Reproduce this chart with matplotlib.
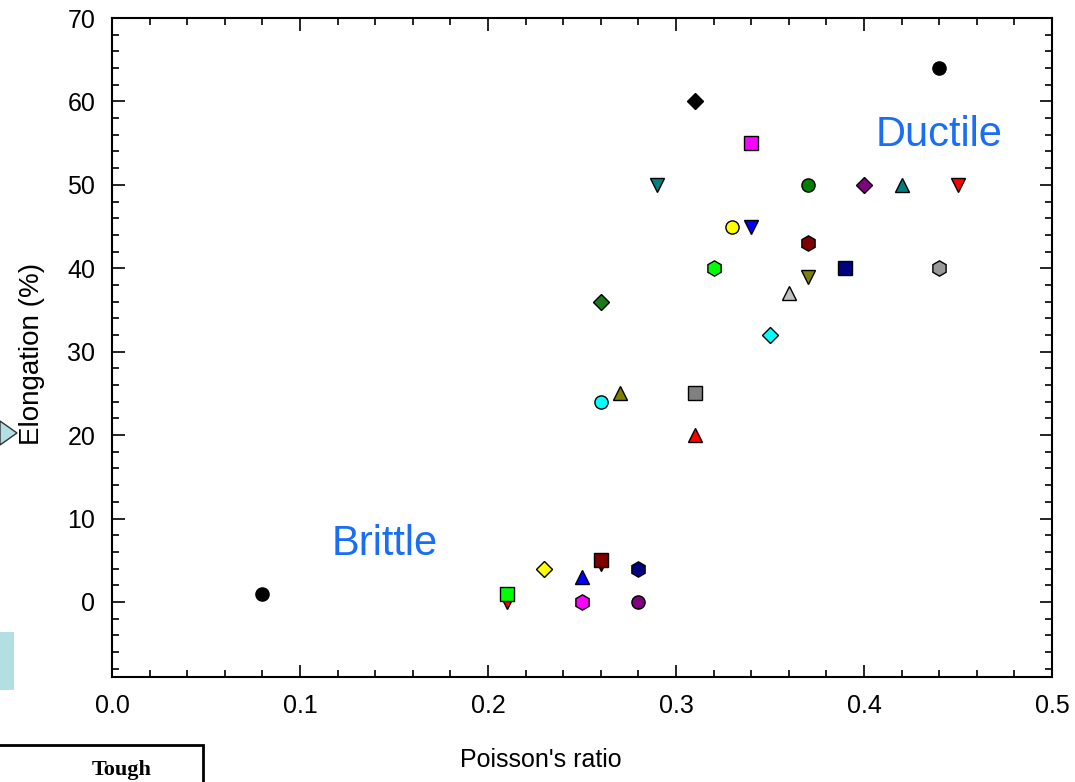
import matplotlib.pyplot as plt
from matplotlib.patches import Rectangle, Polygon

plt.rcParams['font.family'] = ['Liberation Sans', 'DejaVu Sans']

# Poisson's ratio and elongation (%) for each material
poisson = [0.08, 0.44, 0.31, 0.34, 0.29, 0.37, 0.40, 0.42, 0.45,
           0.33, 0.34, 0.37, 0.32, 0.39, 0.44, 0.37, 0.36, 0.26,
           0.35, 0.26, 0.27, 0.31, 0.31, 0.23, 0.25, 0.26, 0.26,
           0.28, 0.21, 0.21, 0.25, 0.28]
elongation = [1, 64, 60, 55, 50, 50, 50, 50, 50,
              45, 45, 43, 40, 40, 40, 39, 37, 36,
              32, 24, 25, 25, 20, 4, 3, 4.6, 5,
              4, 0, 1, 0, 0]

markers = ['o', 'o', 'D', 's', 'v', 'o', 'D', '^', 'v',
           'o', 'v', 'h', 'h', 's', 'h', 'v', '^', 'D',
           'D', 'o', '^', 's', '^', 'D', '^', 'v', 's',
           'h', 'v', 's', 'h', 'o']
colors = ['black', 'black', 'black', '#ff00ff', '#008080', '#008000', '#800080', '#008080', '#ff0000',
          '#ffff00', '#0000ff', '#800000', '#00ff00', '#000080', '#999999', '#808000', '#c0c0c0', '#1a7a1a',
          '#00ffff', '#00ffff', '#808000', '#808080', '#ff0000', '#ffff00', '#0000ff', '#800000', '#800000',
          '#000080', '#ff0000', '#00ff00', '#ff00ff', '#800080']

fig = plt.figure(figsize=(10.75, 7.82), dpi=100)
ax = fig.add_axes([112/1075, 1 - 677/782, 940/1075, 659/782])

sizes = {'o': 9.5, 'D': 8.5, 's': 9.5, 'v': 9.5, '^': 9.5, 'h': 11}
for px, py, m, c in zip(poisson, elongation, markers, colors):
    ax.plot(px, py, marker=m, color=c, markeredgecolor='black',
            markeredgewidth=1.0, markersize=sizes[m], linestyle='none')

ax.set_xlim(0, 0.5)
ax.set_ylim(-9, 70)
ax.set_xticks([0.0, 0.1, 0.2, 0.3, 0.4, 0.5])
ax.set_xticklabels(['0.0', '0.1', '0.2', '0.3', '0.4', '0.5'])
ax.set_yticks(range(0, 71, 10))
ax.set_xticks([i * 0.02 for i in range(26)], minor=True)
ax.set_yticks(range(-8, 71, 2), minor=True)
ax.tick_params(which='both', direction='in', top=True, right=True,
               labelsize=18, width=1.2)
ax.tick_params(which='major', length=9, pad=12)
ax.tick_params(which='minor', length=5)
for s in ax.spines.values():
    s.set_linewidth(1.5)

ax.set_xlabel("Poisson's ratio", fontsize=18)
ax.xaxis.set_label_coords((541 - 112) / 940, -0.108)
ax.set_ylabel('Elongation (%)', fontsize=20)
ax.yaxis.set_label_coords(-0.071, 0.49)

ax.text(0.44, 56, 'Ductile', color='#1a6ef5', fontsize=30, ha='center', va='center')
ax.text(0.145, 7, 'Brittle', color='#1a6ef5', fontsize=30, ha='center', va='center')

# bits of the surrounding slide
fig.patches.append(Polygon([[0, 1 - 421/782], [17/1075, 1 - 433/782], [0, 1 - 445/782]],
                           closed=True, facecolor='#b3dfe3', edgecolor='#333333',
                           linewidth=1, transform=fig.transFigure, figure=fig))
fig.patches.append(Rectangle((0, 1 - 690/782), 14/1075, 58/782, facecolor='#b3dfe3',
                             edgecolor='none', transform=fig.transFigure, figure=fig))
fig.patches.append(Rectangle((-0.01, -0.05), 214/1075, 0.05 + 37/782, facecolor='white',
                             edgecolor='black', linewidth=2, transform=fig.transFigure, figure=fig))
fig.text(122/1075, 0.003, 'Tough', family='Liberation Serif', weight='bold',
         fontsize=16, ha='center', va='bottom')

fig.savefig('out.png', dpi=100)
